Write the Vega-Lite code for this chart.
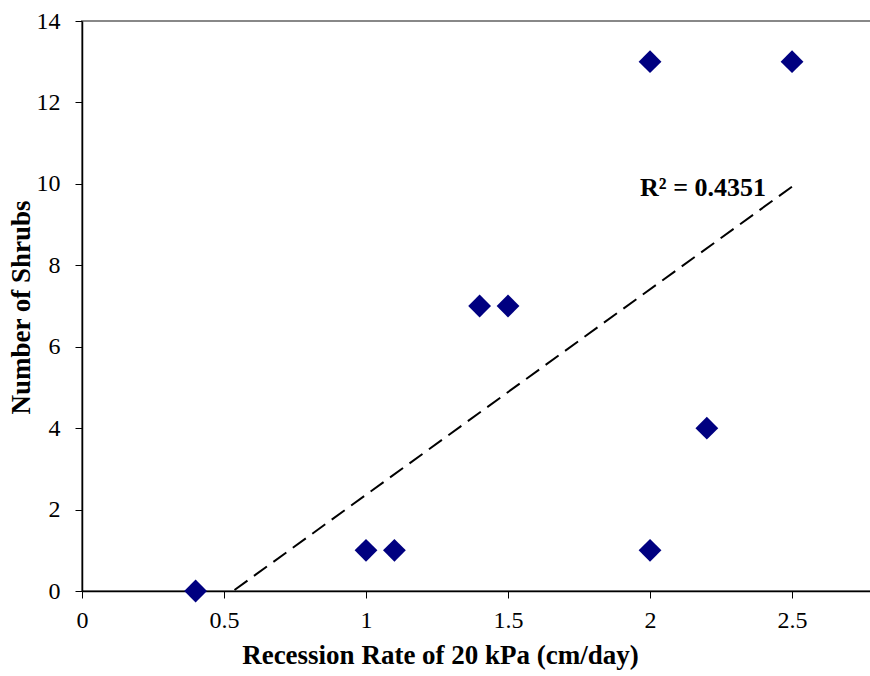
{
  "$schema": "https://vega.github.io/schema/vega-lite/v6.json",
  "width": 789,
  "height": 570,
  "autosize": {"type": "none"},
  "padding": {"left": 82, "top": 21, "right": 0, "bottom": 85},
  "background": "white",
  "config": {
    "font": "Liberation Serif",
    "view": {"stroke": "#888888", "strokeWidth": 2},
    "axis": {
      "grid": false,
      "domainColor": "black",
      "domainWidth": 1.5,
      "tickColor": "black",
      "tickWidth": 1,
      "tickSize": 7,
      "labelFont": "Liberation Serif",
      "labelFontSize": 24,
      "labelColor": "black",
      "labelFlush": false,
      "labelOverlap": false,
      "titleFont": "Liberation Serif",
      "titleFontSize": 27,
      "titleFontWeight": "bold",
      "titleColor": "black"
    }
  },
  "data": {
    "values": [
      {"rate": 0.4, "shrubs": 0},
      {"rate": 1.0, "shrubs": 1},
      {"rate": 1.1, "shrubs": 1},
      {"rate": 1.4, "shrubs": 7},
      {"rate": 1.5, "shrubs": 7},
      {"rate": 2.0, "shrubs": 13},
      {"rate": 2.0, "shrubs": 1},
      {"rate": 2.2, "shrubs": 4},
      {"rate": 2.5, "shrubs": 13}
    ]
  },
  "layer": [
    {
      "transform": [
        {"regression": "shrubs", "on": "rate", "method": "linear", "extent": [0.4, 2.5]}
      ],
      "mark": {"type": "line", "color": "black", "strokeWidth": 2, "strokeDash": [16, 8], "clip": true},
      "encoding": {
        "x": {
          "field": "rate",
          "type": "quantitative",
          "scale": {"domain": [0, 2.778], "nice": false, "zero": false},
          "axis": {
            "title": "Recession Rate of 20 kPa (cm/day)",
            "values": [0, 0.5, 1, 1.5, 2, 2.5],
            "format": "~g",
            "labelPadding": 10,
            "titlePadding": 10,
            "titleX": 358,
            "titleAnchor": "middle"
          }
        },
        "y": {
          "field": "shrubs",
          "type": "quantitative",
          "scale": {"domain": [0, 14], "nice": false},
          "axis": {
            "title": "Number of Shrubs",
            "values": [0, 2, 4, 6, 8, 10, 12, 14],
            "labelPadding": 15,
            "titlePadding": 1,
            "titleY": 286
          }
        }
      }
    },
    {
      "mark": {"type": "point", "shape": "diamond", "filled": true, "size": 520, "color": "#000080", "opacity": 1},
      "encoding": {
        "x": {"field": "rate", "type": "quantitative"},
        "y": {"field": "shrubs", "type": "quantitative"}
      }
    },
    {
      "data": {"values": [{"rate": 1.965, "shrubs": 9.9, "label": "R² = 0.4351"}]},
      "mark": {"type": "text", "align": "left", "baseline": "middle", "font": "Liberation Serif", "fontSize": 26, "fontWeight": "bold", "color": "black"},
      "encoding": {
        "x": {"field": "rate", "type": "quantitative"},
        "y": {"field": "shrubs", "type": "quantitative"},
        "text": {"field": "label"}
      }
    }
  ]
}
